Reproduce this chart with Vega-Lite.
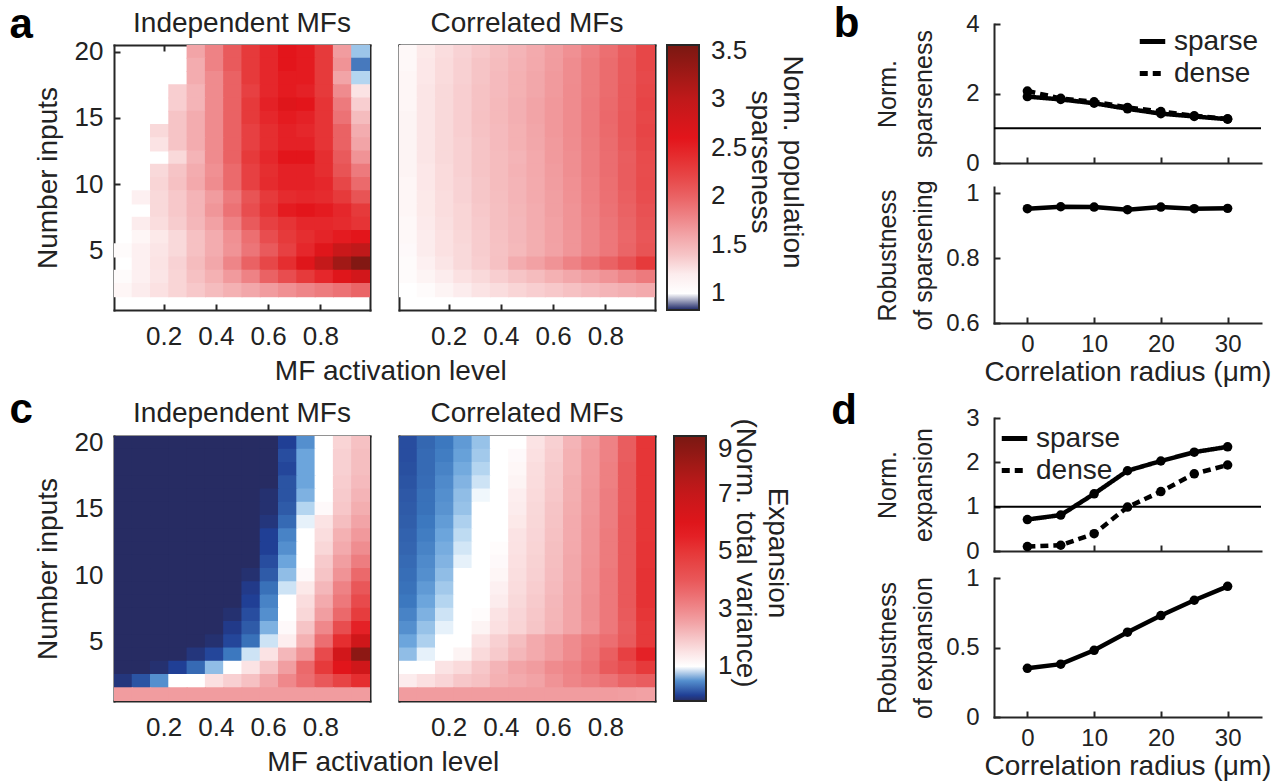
{
"$schema":"https://vega.github.io/schema/vega-lite/v6.json",
"background":"white",
"padding":{"left":9,"top":2,"right":4,"bottom":2},
"config":{
 "font":"Liberation Sans",
 "view":{"stroke":null},
 "axis":{"labelFont":"Liberation Sans","titleFont":"Liberation Sans","labelFontSize":26,"titleFontSize":28,"titleFontWeight":"normal","labelColor":"#222","titleColor":"#222","domainColor":"#262626","domainWidth":2,"domainCap":"square","tickColor":"#262626","tickWidth":2,"tickSize":-6,"grid":false,"zindex":1,"titleLimit":400},
 "title":{"font":"Liberation Sans","fontSize":28,"fontWeight":"normal","color":"#222"},
 "legend":{"labelFont":"Liberation Sans","titleFont":"Liberation Sans"},
 "text":{"font":"Liberation Sans"}
},
"datasets":{
"a1":[
{"x":0.325,"n":20,"v":1.6},{"x":0.395,"n":20,"v":1.8},{"x":0.465,"n":20,"v":2.05},{"x":0.535,"n":20,"v":2.3},{"x":0.605,"n":20,"v":2.45},{"x":0.675,"n":20,"v":2.6},{"x":0.745,"n":20,"v":2.55},{"x":0.815,"n":20,"v":2.3},{"x":0.885,"n":20,"v":1.65},{"x":0.955,"n":20,"v":0.97},
{"x":0.325,"n":19,"v":1.55},{"x":0.395,"n":19,"v":1.8},{"x":0.465,"n":19,"v":2.05},{"x":0.535,"n":19,"v":2.3},{"x":0.605,"n":19,"v":2.45},{"x":0.675,"n":19,"v":2.6},{"x":0.745,"n":19,"v":2.55},{"x":0.815,"n":19,"v":2.3},{"x":0.885,"n":19,"v":1.7},{"x":0.955,"n":19,"v":0.92},
{"x":0.325,"n":18,"v":1.55},{"x":0.395,"n":18,"v":1.75},{"x":0.465,"n":18,"v":2.0},{"x":0.535,"n":18,"v":2.3},{"x":0.605,"n":18,"v":2.45},{"x":0.675,"n":18,"v":2.55},{"x":0.745,"n":18,"v":2.55},{"x":0.815,"n":18,"v":2.3},{"x":0.885,"n":18,"v":1.6},{"x":0.955,"n":18,"v":0.98},
{"x":0.255,"n":17,"v":1.35},{"x":0.325,"n":17,"v":1.5},{"x":0.395,"n":17,"v":1.75},{"x":0.465,"n":17,"v":2.0},{"x":0.535,"n":17,"v":2.25},{"x":0.605,"n":17,"v":2.45},{"x":0.675,"n":17,"v":2.55},{"x":0.745,"n":17,"v":2.5},{"x":0.815,"n":17,"v":2.3},{"x":0.885,"n":17,"v":1.75},{"x":0.955,"n":17,"v":1.25},
{"x":0.255,"n":16,"v":1.35},{"x":0.325,"n":16,"v":1.5},{"x":0.395,"n":16,"v":1.75},{"x":0.465,"n":16,"v":2.0},{"x":0.535,"n":16,"v":2.3},{"x":0.605,"n":16,"v":2.5},{"x":0.675,"n":16,"v":2.65},{"x":0.745,"n":16,"v":2.6},{"x":0.815,"n":16,"v":2.35},{"x":0.885,"n":16,"v":1.85},{"x":0.955,"n":16,"v":1.35},
{"x":0.255,"n":15,"v":1.4},{"x":0.325,"n":15,"v":1.55},{"x":0.395,"n":15,"v":1.75},{"x":0.465,"n":15,"v":2.0},{"x":0.535,"n":15,"v":2.3},{"x":0.605,"n":15,"v":2.45},{"x":0.675,"n":15,"v":2.55},{"x":0.745,"n":15,"v":2.5},{"x":0.815,"n":15,"v":2.35},{"x":0.885,"n":15,"v":1.9},{"x":0.955,"n":15,"v":1.45},
{"x":0.185,"n":14,"v":1.3},{"x":0.255,"n":14,"v":1.4},{"x":0.325,"n":14,"v":1.55},{"x":0.395,"n":14,"v":1.75},{"x":0.465,"n":14,"v":2.0},{"x":0.535,"n":14,"v":2.25},{"x":0.605,"n":14,"v":2.4},{"x":0.675,"n":14,"v":2.5},{"x":0.745,"n":14,"v":2.45},{"x":0.815,"n":14,"v":2.35},{"x":0.885,"n":14,"v":2.0},{"x":0.955,"n":14,"v":1.55},
{"x":0.185,"n":13,"v":1.25},{"x":0.255,"n":13,"v":1.4},{"x":0.325,"n":13,"v":1.55},{"x":0.395,"n":13,"v":1.75},{"x":0.465,"n":13,"v":2.0},{"x":0.535,"n":13,"v":2.25},{"x":0.605,"n":13,"v":2.4},{"x":0.675,"n":13,"v":2.5},{"x":0.745,"n":13,"v":2.5},{"x":0.815,"n":13,"v":2.35},{"x":0.885,"n":13,"v":2.0},{"x":0.955,"n":13,"v":1.6},
{"x":0.255,"n":12,"v":1.3},{"x":0.325,"n":12,"v":1.5},{"x":0.395,"n":12,"v":1.75},{"x":0.465,"n":12,"v":2.0},{"x":0.535,"n":12,"v":2.3},{"x":0.605,"n":12,"v":2.45},{"x":0.675,"n":12,"v":2.6},{"x":0.745,"n":12,"v":2.6},{"x":0.815,"n":12,"v":2.4},{"x":0.885,"n":12,"v":2.05},{"x":0.955,"n":12,"v":1.7},
{"x":0.185,"n":11,"v":1.3},{"x":0.255,"n":11,"v":1.4},{"x":0.325,"n":11,"v":1.55},{"x":0.395,"n":11,"v":1.72},{"x":0.465,"n":11,"v":1.95},{"x":0.535,"n":11,"v":2.25},{"x":0.605,"n":11,"v":2.4},{"x":0.675,"n":11,"v":2.5},{"x":0.745,"n":11,"v":2.5},{"x":0.815,"n":11,"v":2.4},{"x":0.885,"n":11,"v":2.1},{"x":0.955,"n":11,"v":1.85},
{"x":0.185,"n":10,"v":1.32},{"x":0.255,"n":10,"v":1.42},{"x":0.325,"n":10,"v":1.57},{"x":0.395,"n":10,"v":1.74},{"x":0.465,"n":10,"v":1.95},{"x":0.535,"n":10,"v":2.25},{"x":0.605,"n":10,"v":2.42},{"x":0.675,"n":10,"v":2.5},{"x":0.745,"n":10,"v":2.5},{"x":0.815,"n":10,"v":2.45},{"x":0.885,"n":10,"v":2.2},{"x":0.955,"n":10,"v":1.95},
{"x":0.115,"n":9,"v":1.18},{"x":0.185,"n":9,"v":1.3},{"x":0.255,"n":9,"v":1.38},{"x":0.325,"n":9,"v":1.5},{"x":0.395,"n":9,"v":1.65},{"x":0.465,"n":9,"v":1.85},{"x":0.535,"n":9,"v":2.1},{"x":0.605,"n":9,"v":2.3},{"x":0.675,"n":9,"v":2.42},{"x":0.745,"n":9,"v":2.45},{"x":0.815,"n":9,"v":2.42},{"x":0.885,"n":9,"v":2.3},{"x":0.955,"n":9,"v":2.1},
{"x":0.185,"n":8,"v":1.3},{"x":0.255,"n":8,"v":1.38},{"x":0.325,"n":8,"v":1.5},{"x":0.395,"n":8,"v":1.68},{"x":0.465,"n":8,"v":1.9},{"x":0.535,"n":8,"v":2.15},{"x":0.605,"n":8,"v":2.35},{"x":0.675,"n":8,"v":2.55},{"x":0.745,"n":8,"v":2.6},{"x":0.815,"n":8,"v":2.55},{"x":0.885,"n":8,"v":2.45},{"x":0.955,"n":8,"v":2.3},
{"x":0.115,"n":7,"v":1.2},{"x":0.185,"n":7,"v":1.28},{"x":0.255,"n":7,"v":1.36},{"x":0.325,"n":7,"v":1.48},{"x":0.395,"n":7,"v":1.62},{"x":0.465,"n":7,"v":1.8},{"x":0.535,"n":7,"v":2.05},{"x":0.605,"n":7,"v":2.25},{"x":0.675,"n":7,"v":2.35},{"x":0.745,"n":7,"v":2.45},{"x":0.815,"n":7,"v":2.45},{"x":0.885,"n":7,"v":2.42},{"x":0.955,"n":7,"v":2.35},
{"x":0.115,"n":6,"v":1.15},{"x":0.185,"n":6,"v":1.22},{"x":0.255,"n":6,"v":1.3},{"x":0.325,"n":6,"v":1.42},{"x":0.395,"n":6,"v":1.55},{"x":0.465,"n":6,"v":1.72},{"x":0.535,"n":6,"v":1.92},{"x":0.605,"n":6,"v":2.15},{"x":0.675,"n":6,"v":2.3},{"x":0.745,"n":6,"v":2.4},{"x":0.815,"n":6,"v":2.48},{"x":0.885,"n":6,"v":2.55},{"x":0.955,"n":6,"v":2.6},
{"x":0.045,"n":5,"v":1.12},{"x":0.115,"n":5,"v":1.18},{"x":0.185,"n":5,"v":1.24},{"x":0.255,"n":5,"v":1.3},{"x":0.325,"n":5,"v":1.42},{"x":0.395,"n":5,"v":1.55},{"x":0.465,"n":5,"v":1.7},{"x":0.535,"n":5,"v":1.88},{"x":0.605,"n":5,"v":2.05},{"x":0.675,"n":5,"v":2.25},{"x":0.745,"n":5,"v":2.45},{"x":0.815,"n":5,"v":2.65},{"x":0.885,"n":5,"v":2.9},{"x":0.955,"n":5,"v":3.0},
{"x":0.115,"n":4,"v":1.18},{"x":0.185,"n":4,"v":1.25},{"x":0.255,"n":4,"v":1.33},{"x":0.325,"n":4,"v":1.45},{"x":0.395,"n":4,"v":1.58},{"x":0.465,"n":4,"v":1.78},{"x":0.535,"n":4,"v":2.0},{"x":0.605,"n":4,"v":2.2},{"x":0.675,"n":4,"v":2.4},{"x":0.745,"n":4,"v":2.65},{"x":0.815,"n":4,"v":2.95},{"x":0.885,"n":4,"v":3.25},{"x":0.955,"n":4,"v":3.5},
{"x":0.045,"n":3,"v":1.12},{"x":0.115,"n":3,"v":1.18},{"x":0.185,"n":3,"v":1.24},{"x":0.255,"n":3,"v":1.32},{"x":0.325,"n":3,"v":1.42},{"x":0.395,"n":3,"v":1.52},{"x":0.465,"n":3,"v":1.66},{"x":0.535,"n":3,"v":1.8},{"x":0.605,"n":3,"v":2.0},{"x":0.675,"n":3,"v":2.15},{"x":0.745,"n":3,"v":2.3},{"x":0.815,"n":3,"v":2.45},{"x":0.885,"n":3,"v":2.65},{"x":0.955,"n":3,"v":2.8},
{"x":0.045,"n":2,"v":1.15},{"x":0.115,"n":2,"v":1.2},{"x":0.185,"n":2,"v":1.26},{"x":0.255,"n":2,"v":1.32},{"x":0.325,"n":2,"v":1.38},{"x":0.395,"n":2,"v":1.45},{"x":0.465,"n":2,"v":1.52},{"x":0.535,"n":2,"v":1.58},{"x":0.605,"n":2,"v":1.65},{"x":0.675,"n":2,"v":1.72},{"x":0.745,"n":2,"v":1.78},{"x":0.815,"n":2,"v":1.84},{"x":0.885,"n":2,"v":1.9},{"x":0.955,"n":2,"v":1.98}
],
"a2":[
{"x":0.045,"n":20,"v":1.14},{"x":0.115,"n":20,"v":1.22},{"x":0.185,"n":20,"v":1.28},{"x":0.255,"n":20,"v":1.33},{"x":0.325,"n":20,"v":1.38},{"x":0.395,"n":20,"v":1.44},{"x":0.465,"n":20,"v":1.5},{"x":0.535,"n":20,"v":1.56},{"x":0.605,"n":20,"v":1.64},{"x":0.675,"n":20,"v":1.72},{"x":0.745,"n":20,"v":1.82},{"x":0.815,"n":20,"v":1.92},{"x":0.885,"n":20,"v":2.04},{"x":0.955,"n":20,"v":2.2},
{"x":0.045,"n":19,"v":1.14},{"x":0.115,"n":19,"v":1.23},{"x":0.185,"n":19,"v":1.29},{"x":0.255,"n":19,"v":1.34},{"x":0.325,"n":19,"v":1.4},{"x":0.395,"n":19,"v":1.45},{"x":0.465,"n":19,"v":1.51},{"x":0.535,"n":19,"v":1.57},{"x":0.605,"n":19,"v":1.65},{"x":0.675,"n":19,"v":1.74},{"x":0.745,"n":19,"v":1.84},{"x":0.815,"n":19,"v":1.94},{"x":0.885,"n":19,"v":2.05},{"x":0.955,"n":19,"v":2.2},
{"x":0.045,"n":18,"v":1.15},{"x":0.115,"n":18,"v":1.23},{"x":0.185,"n":18,"v":1.29},{"x":0.255,"n":18,"v":1.34},{"x":0.325,"n":18,"v":1.4},{"x":0.395,"n":18,"v":1.46},{"x":0.465,"n":18,"v":1.52},{"x":0.535,"n":18,"v":1.58},{"x":0.605,"n":18,"v":1.66},{"x":0.675,"n":18,"v":1.74},{"x":0.745,"n":18,"v":1.84},{"x":0.815,"n":18,"v":1.94},{"x":0.885,"n":18,"v":2.05},{"x":0.955,"n":18,"v":2.18},
{"x":0.045,"n":17,"v":1.15},{"x":0.115,"n":17,"v":1.24},{"x":0.185,"n":17,"v":1.3},{"x":0.255,"n":17,"v":1.35},{"x":0.325,"n":17,"v":1.41},{"x":0.395,"n":17,"v":1.46},{"x":0.465,"n":17,"v":1.52},{"x":0.535,"n":17,"v":1.58},{"x":0.605,"n":17,"v":1.66},{"x":0.675,"n":17,"v":1.75},{"x":0.745,"n":17,"v":1.84},{"x":0.815,"n":17,"v":1.94},{"x":0.885,"n":17,"v":2.06},{"x":0.955,"n":17,"v":2.2},
{"x":0.045,"n":16,"v":1.15},{"x":0.115,"n":16,"v":1.24},{"x":0.185,"n":16,"v":1.3},{"x":0.255,"n":16,"v":1.35},{"x":0.325,"n":16,"v":1.41},{"x":0.395,"n":16,"v":1.47},{"x":0.465,"n":16,"v":1.53},{"x":0.535,"n":16,"v":1.6},{"x":0.605,"n":16,"v":1.67},{"x":0.675,"n":16,"v":1.75},{"x":0.745,"n":16,"v":1.85},{"x":0.815,"n":16,"v":1.95},{"x":0.885,"n":16,"v":2.06},{"x":0.955,"n":16,"v":2.22},
{"x":0.045,"n":15,"v":1.16},{"x":0.115,"n":15,"v":1.24},{"x":0.185,"n":15,"v":1.3},{"x":0.255,"n":15,"v":1.35},{"x":0.325,"n":15,"v":1.42},{"x":0.395,"n":15,"v":1.47},{"x":0.465,"n":15,"v":1.53},{"x":0.535,"n":15,"v":1.6},{"x":0.605,"n":15,"v":1.67},{"x":0.675,"n":15,"v":1.75},{"x":0.745,"n":15,"v":1.85},{"x":0.815,"n":15,"v":1.96},{"x":0.885,"n":15,"v":2.07},{"x":0.955,"n":15,"v":2.2},
{"x":0.045,"n":14,"v":1.16},{"x":0.115,"n":14,"v":1.24},{"x":0.185,"n":14,"v":1.3},{"x":0.255,"n":14,"v":1.35},{"x":0.325,"n":14,"v":1.41},{"x":0.395,"n":14,"v":1.46},{"x":0.465,"n":14,"v":1.52},{"x":0.535,"n":14,"v":1.59},{"x":0.605,"n":14,"v":1.67},{"x":0.675,"n":14,"v":1.75},{"x":0.745,"n":14,"v":1.85},{"x":0.815,"n":14,"v":1.95},{"x":0.885,"n":14,"v":2.07},{"x":0.955,"n":14,"v":2.22},
{"x":0.045,"n":13,"v":1.16},{"x":0.115,"n":13,"v":1.24},{"x":0.185,"n":13,"v":1.3},{"x":0.255,"n":13,"v":1.34},{"x":0.325,"n":13,"v":1.4},{"x":0.395,"n":13,"v":1.46},{"x":0.465,"n":13,"v":1.52},{"x":0.535,"n":13,"v":1.58},{"x":0.605,"n":13,"v":1.66},{"x":0.675,"n":13,"v":1.74},{"x":0.745,"n":13,"v":1.84},{"x":0.815,"n":13,"v":1.94},{"x":0.885,"n":13,"v":2.06},{"x":0.955,"n":13,"v":2.2},
{"x":0.045,"n":12,"v":1.16},{"x":0.115,"n":12,"v":1.24},{"x":0.185,"n":12,"v":1.3},{"x":0.255,"n":12,"v":1.34},{"x":0.325,"n":12,"v":1.4},{"x":0.395,"n":12,"v":1.45},{"x":0.465,"n":12,"v":1.5},{"x":0.535,"n":12,"v":1.57},{"x":0.605,"n":12,"v":1.66},{"x":0.675,"n":12,"v":1.73},{"x":0.745,"n":12,"v":1.83},{"x":0.815,"n":12,"v":1.93},{"x":0.885,"n":12,"v":2.03},{"x":0.955,"n":12,"v":2.17},
{"x":0.045,"n":11,"v":1.16},{"x":0.115,"n":11,"v":1.23},{"x":0.185,"n":11,"v":1.29},{"x":0.255,"n":11,"v":1.34},{"x":0.325,"n":11,"v":1.4},{"x":0.395,"n":11,"v":1.45},{"x":0.465,"n":11,"v":1.51},{"x":0.535,"n":11,"v":1.57},{"x":0.605,"n":11,"v":1.65},{"x":0.675,"n":11,"v":1.73},{"x":0.745,"n":11,"v":1.83},{"x":0.815,"n":11,"v":1.93},{"x":0.885,"n":11,"v":2.04},{"x":0.955,"n":11,"v":2.16},
{"x":0.045,"n":10,"v":1.15},{"x":0.115,"n":10,"v":1.23},{"x":0.185,"n":10,"v":1.29},{"x":0.255,"n":10,"v":1.33},{"x":0.325,"n":10,"v":1.39},{"x":0.395,"n":10,"v":1.45},{"x":0.465,"n":10,"v":1.5},{"x":0.535,"n":10,"v":1.56},{"x":0.605,"n":10,"v":1.64},{"x":0.675,"n":10,"v":1.72},{"x":0.745,"n":10,"v":1.82},{"x":0.815,"n":10,"v":1.92},{"x":0.885,"n":10,"v":2.04},{"x":0.955,"n":10,"v":2.17},
{"x":0.045,"n":9,"v":1.15},{"x":0.115,"n":9,"v":1.22},{"x":0.185,"n":9,"v":1.28},{"x":0.255,"n":9,"v":1.33},{"x":0.325,"n":9,"v":1.39},{"x":0.395,"n":9,"v":1.44},{"x":0.465,"n":9,"v":1.5},{"x":0.535,"n":9,"v":1.56},{"x":0.605,"n":9,"v":1.63},{"x":0.675,"n":9,"v":1.71},{"x":0.745,"n":9,"v":1.81},{"x":0.815,"n":9,"v":1.91},{"x":0.885,"n":9,"v":2.02},{"x":0.955,"n":9,"v":2.15},
{"x":0.045,"n":8,"v":1.15},{"x":0.115,"n":8,"v":1.22},{"x":0.185,"n":8,"v":1.28},{"x":0.255,"n":8,"v":1.32},{"x":0.325,"n":8,"v":1.38},{"x":0.395,"n":8,"v":1.43},{"x":0.465,"n":8,"v":1.49},{"x":0.535,"n":8,"v":1.55},{"x":0.605,"n":8,"v":1.63},{"x":0.675,"n":8,"v":1.7},{"x":0.745,"n":8,"v":1.8},{"x":0.815,"n":8,"v":1.9},{"x":0.885,"n":8,"v":2.0},{"x":0.955,"n":8,"v":2.12},
{"x":0.045,"n":7,"v":1.14},{"x":0.115,"n":7,"v":1.21},{"x":0.185,"n":7,"v":1.27},{"x":0.255,"n":7,"v":1.32},{"x":0.325,"n":7,"v":1.37},{"x":0.395,"n":7,"v":1.43},{"x":0.465,"n":7,"v":1.48},{"x":0.535,"n":7,"v":1.55},{"x":0.605,"n":7,"v":1.62},{"x":0.675,"n":7,"v":1.7},{"x":0.745,"n":7,"v":1.79},{"x":0.815,"n":7,"v":1.88},{"x":0.885,"n":7,"v":1.98},{"x":0.955,"n":7,"v":2.1},
{"x":0.045,"n":6,"v":1.14},{"x":0.115,"n":6,"v":1.2},{"x":0.185,"n":6,"v":1.26},{"x":0.255,"n":6,"v":1.31},{"x":0.325,"n":6,"v":1.36},{"x":0.395,"n":6,"v":1.42},{"x":0.465,"n":6,"v":1.48},{"x":0.535,"n":6,"v":1.54},{"x":0.605,"n":6,"v":1.62},{"x":0.675,"n":6,"v":1.69},{"x":0.745,"n":6,"v":1.78},{"x":0.815,"n":6,"v":1.87},{"x":0.885,"n":6,"v":1.97},{"x":0.955,"n":6,"v":2.08},
{"x":0.045,"n":5,"v":1.13},{"x":0.115,"n":5,"v":1.2},{"x":0.185,"n":5,"v":1.26},{"x":0.255,"n":5,"v":1.3},{"x":0.325,"n":5,"v":1.36},{"x":0.395,"n":5,"v":1.41},{"x":0.465,"n":5,"v":1.47},{"x":0.535,"n":5,"v":1.54},{"x":0.605,"n":5,"v":1.61},{"x":0.675,"n":5,"v":1.69},{"x":0.745,"n":5,"v":1.78},{"x":0.815,"n":5,"v":1.87},{"x":0.885,"n":5,"v":1.98},{"x":0.955,"n":5,"v":2.1},
{"x":0.045,"n":4,"v":1.12},{"x":0.115,"n":4,"v":1.18},{"x":0.185,"n":4,"v":1.24},{"x":0.255,"n":4,"v":1.3},{"x":0.325,"n":4,"v":1.35},{"x":0.395,"n":4,"v":1.42},{"x":0.465,"n":4,"v":1.55},{"x":0.535,"n":4,"v":1.62},{"x":0.605,"n":4,"v":1.7},{"x":0.675,"n":4,"v":1.8},{"x":0.745,"n":4,"v":1.9},{"x":0.815,"n":4,"v":2.0},{"x":0.885,"n":4,"v":2.12},{"x":0.955,"n":4,"v":2.3},
{"x":0.045,"n":3,"v":1.12},{"x":0.115,"n":3,"v":1.16},{"x":0.185,"n":3,"v":1.2},{"x":0.255,"n":3,"v":1.26},{"x":0.325,"n":3,"v":1.3},{"x":0.395,"n":3,"v":1.35},{"x":0.465,"n":3,"v":1.4},{"x":0.535,"n":3,"v":1.45},{"x":0.605,"n":3,"v":1.52},{"x":0.675,"n":3,"v":1.58},{"x":0.745,"n":3,"v":1.64},{"x":0.815,"n":3,"v":1.7},{"x":0.885,"n":3,"v":1.78},{"x":0.955,"n":3,"v":1.85},
{"x":0.045,"n":2,"v":1.1},{"x":0.115,"n":2,"v":1.12},{"x":0.185,"n":2,"v":1.16},{"x":0.255,"n":2,"v":1.2},{"x":0.325,"n":2,"v":1.25},{"x":0.395,"n":2,"v":1.28},{"x":0.465,"n":2,"v":1.32},{"x":0.535,"n":2,"v":1.35},{"x":0.605,"n":2,"v":1.38},{"x":0.675,"n":2,"v":1.42},{"x":0.745,"n":2,"v":1.46},{"x":0.815,"n":2,"v":1.5},{"x":0.885,"n":2,"v":1.53},{"x":0.955,"n":2,"v":1.56}
],
"c1":[
{"x":0.045,"n":20,"v":-0.2},{"x":0.115,"n":20,"v":-0.2},{"x":0.185,"n":20,"v":-0.2},{"x":0.255,"n":20,"v":-0.2},{"x":0.325,"n":20,"v":-0.2},{"x":0.395,"n":20,"v":-0.2},{"x":0.465,"n":20,"v":-0.2},{"x":0.535,"n":20,"v":-0.2},{"x":0.605,"n":20,"v":-0.2},{"x":0.675,"n":20,"v":0.0},{"x":0.745,"n":20,"v":0.5},{"x":0.815,"n":20,"v":1.15},{"x":0.885,"n":20,"v":1.75},{"x":0.955,"n":20,"v":2.05},
{"x":0.045,"n":19,"v":-0.2},{"x":0.115,"n":19,"v":-0.2},{"x":0.185,"n":19,"v":-0.2},{"x":0.255,"n":19,"v":-0.2},{"x":0.325,"n":19,"v":-0.2},{"x":0.395,"n":19,"v":-0.2},{"x":0.465,"n":19,"v":-0.2},{"x":0.535,"n":19,"v":-0.2},{"x":0.605,"n":19,"v":-0.2},{"x":0.675,"n":19,"v":0.1},{"x":0.745,"n":19,"v":0.6},{"x":0.815,"n":19,"v":1.15},{"x":0.885,"n":19,"v":1.8},{"x":0.955,"n":19,"v":2.1},
{"x":0.045,"n":18,"v":-0.2},{"x":0.115,"n":18,"v":-0.2},{"x":0.185,"n":18,"v":-0.2},{"x":0.255,"n":18,"v":-0.2},{"x":0.325,"n":18,"v":-0.2},{"x":0.395,"n":18,"v":-0.2},{"x":0.465,"n":18,"v":-0.2},{"x":0.535,"n":18,"v":-0.2},{"x":0.605,"n":18,"v":-0.2},{"x":0.675,"n":18,"v":0.05},{"x":0.745,"n":18,"v":0.6},{"x":0.815,"n":18,"v":1.2},{"x":0.885,"n":18,"v":1.8},{"x":0.955,"n":18,"v":2.1},
{"x":0.045,"n":17,"v":-0.2},{"x":0.115,"n":17,"v":-0.2},{"x":0.185,"n":17,"v":-0.2},{"x":0.255,"n":17,"v":-0.2},{"x":0.325,"n":17,"v":-0.2},{"x":0.395,"n":17,"v":-0.2},{"x":0.465,"n":17,"v":-0.2},{"x":0.535,"n":17,"v":-0.2},{"x":0.605,"n":17,"v":-0.2},{"x":0.675,"n":17,"v":0.15},{"x":0.745,"n":17,"v":0.6},{"x":0.815,"n":17,"v":1.25},{"x":0.885,"n":17,"v":1.85},{"x":0.955,"n":17,"v":2.15},
{"x":0.045,"n":16,"v":-0.2},{"x":0.115,"n":16,"v":-0.2},{"x":0.185,"n":16,"v":-0.2},{"x":0.255,"n":16,"v":-0.2},{"x":0.325,"n":16,"v":-0.2},{"x":0.395,"n":16,"v":-0.2},{"x":0.465,"n":16,"v":-0.2},{"x":0.535,"n":16,"v":-0.2},{"x":0.605,"n":16,"v":-0.15},{"x":0.675,"n":16,"v":0.15},{"x":0.745,"n":16,"v":0.65},{"x":0.815,"n":16,"v":1.25},{"x":0.885,"n":16,"v":1.9},{"x":0.955,"n":16,"v":2.25},
{"x":0.045,"n":15,"v":-0.2},{"x":0.115,"n":15,"v":-0.2},{"x":0.185,"n":15,"v":-0.2},{"x":0.255,"n":15,"v":-0.2},{"x":0.325,"n":15,"v":-0.2},{"x":0.395,"n":15,"v":-0.2},{"x":0.465,"n":15,"v":-0.2},{"x":0.535,"n":15,"v":-0.2},{"x":0.605,"n":15,"v":-0.15},{"x":0.675,"n":15,"v":0.2},{"x":0.745,"n":15,"v":0.8},{"x":0.815,"n":15,"v":1.3},{"x":0.885,"n":15,"v":1.95},{"x":0.955,"n":15,"v":2.35},
{"x":0.045,"n":14,"v":-0.2},{"x":0.115,"n":14,"v":-0.2},{"x":0.185,"n":14,"v":-0.2},{"x":0.255,"n":14,"v":-0.2},{"x":0.325,"n":14,"v":-0.2},{"x":0.395,"n":14,"v":-0.2},{"x":0.465,"n":14,"v":-0.2},{"x":0.535,"n":14,"v":-0.2},{"x":0.605,"n":14,"v":-0.1},{"x":0.675,"n":14,"v":0.3},{"x":0.745,"n":14,"v":0.9},{"x":0.815,"n":14,"v":1.5},{"x":0.885,"n":14,"v":2.1},{"x":0.955,"n":14,"v":2.5},
{"x":0.045,"n":13,"v":-0.2},{"x":0.115,"n":13,"v":-0.2},{"x":0.185,"n":13,"v":-0.2},{"x":0.255,"n":13,"v":-0.2},{"x":0.325,"n":13,"v":-0.2},{"x":0.395,"n":13,"v":-0.2},{"x":0.465,"n":13,"v":-0.2},{"x":0.535,"n":13,"v":-0.2},{"x":0.605,"n":13,"v":0.0},{"x":0.675,"n":13,"v":0.45},{"x":0.745,"n":13,"v":1.05},{"x":0.815,"n":13,"v":1.6},{"x":0.885,"n":13,"v":2.3},{"x":0.955,"n":13,"v":2.7},
{"x":0.045,"n":12,"v":-0.2},{"x":0.115,"n":12,"v":-0.2},{"x":0.185,"n":12,"v":-0.2},{"x":0.255,"n":12,"v":-0.2},{"x":0.325,"n":12,"v":-0.2},{"x":0.395,"n":12,"v":-0.2},{"x":0.465,"n":12,"v":-0.2},{"x":0.535,"n":12,"v":-0.2},{"x":0.605,"n":12,"v":0.0},{"x":0.675,"n":12,"v":0.5},{"x":0.745,"n":12,"v":1.1},{"x":0.815,"n":12,"v":1.7},{"x":0.885,"n":12,"v":2.4},{"x":0.955,"n":12,"v":2.9},
{"x":0.045,"n":11,"v":-0.2},{"x":0.115,"n":11,"v":-0.2},{"x":0.185,"n":11,"v":-0.2},{"x":0.255,"n":11,"v":-0.2},{"x":0.325,"n":11,"v":-0.2},{"x":0.395,"n":11,"v":-0.2},{"x":0.465,"n":11,"v":-0.2},{"x":0.535,"n":11,"v":-0.2},{"x":0.605,"n":11,"v":0.1},{"x":0.675,"n":11,"v":0.6},{"x":0.745,"n":11,"v":1.2},{"x":0.815,"n":11,"v":1.9},{"x":0.885,"n":11,"v":2.6},{"x":0.955,"n":11,"v":3.2},
{"x":0.045,"n":10,"v":-0.2},{"x":0.115,"n":10,"v":-0.2},{"x":0.185,"n":10,"v":-0.2},{"x":0.255,"n":10,"v":-0.2},{"x":0.325,"n":10,"v":-0.2},{"x":0.395,"n":10,"v":-0.2},{"x":0.465,"n":10,"v":-0.2},{"x":0.535,"n":10,"v":-0.15},{"x":0.605,"n":10,"v":0.2},{"x":0.675,"n":10,"v":0.7},{"x":0.745,"n":10,"v":1.3},{"x":0.815,"n":10,"v":2.0},{"x":0.885,"n":10,"v":2.8},{"x":0.955,"n":10,"v":3.6},
{"x":0.045,"n":9,"v":-0.2},{"x":0.115,"n":9,"v":-0.2},{"x":0.185,"n":9,"v":-0.2},{"x":0.255,"n":9,"v":-0.2},{"x":0.325,"n":9,"v":-0.2},{"x":0.395,"n":9,"v":-0.2},{"x":0.465,"n":9,"v":-0.2},{"x":0.535,"n":9,"v":-0.05},{"x":0.605,"n":9,"v":0.35},{"x":0.675,"n":9,"v":0.85},{"x":0.745,"n":9,"v":1.45},{"x":0.815,"n":9,"v":2.2},{"x":0.885,"n":9,"v":3.1},{"x":0.955,"n":9,"v":4.0},
{"x":0.045,"n":8,"v":-0.2},{"x":0.115,"n":8,"v":-0.2},{"x":0.185,"n":8,"v":-0.2},{"x":0.255,"n":8,"v":-0.2},{"x":0.325,"n":8,"v":-0.2},{"x":0.395,"n":8,"v":-0.2},{"x":0.465,"n":8,"v":-0.2},{"x":0.535,"n":8,"v":0.0},{"x":0.605,"n":8,"v":0.45},{"x":0.675,"n":8,"v":1.0},{"x":0.745,"n":8,"v":1.6},{"x":0.815,"n":8,"v":2.4},{"x":0.885,"n":8,"v":3.3},{"x":0.955,"n":8,"v":4.4},
{"x":0.045,"n":7,"v":-0.2},{"x":0.115,"n":7,"v":-0.2},{"x":0.185,"n":7,"v":-0.2},{"x":0.255,"n":7,"v":-0.2},{"x":0.325,"n":7,"v":-0.2},{"x":0.395,"n":7,"v":-0.2},{"x":0.465,"n":7,"v":-0.15},{"x":0.535,"n":7,"v":0.1},{"x":0.605,"n":7,"v":0.5},{"x":0.675,"n":7,"v":1.1},{"x":0.745,"n":7,"v":1.7},{"x":0.815,"n":7,"v":2.6},{"x":0.885,"n":7,"v":3.6},{"x":0.955,"n":7,"v":4.8},
{"x":0.045,"n":6,"v":-0.2},{"x":0.115,"n":6,"v":-0.2},{"x":0.185,"n":6,"v":-0.2},{"x":0.255,"n":6,"v":-0.2},{"x":0.325,"n":6,"v":-0.2},{"x":0.395,"n":6,"v":-0.2},{"x":0.465,"n":6,"v":-0.05},{"x":0.535,"n":6,"v":0.2},{"x":0.605,"n":6,"v":0.65},{"x":0.675,"n":6,"v":1.3},{"x":0.745,"n":6,"v":2.0},{"x":0.815,"n":6,"v":3.0},{"x":0.885,"n":6,"v":4.3},{"x":0.955,"n":6,"v":5.5},
{"x":0.045,"n":5,"v":-0.2},{"x":0.115,"n":5,"v":-0.2},{"x":0.185,"n":5,"v":-0.2},{"x":0.255,"n":5,"v":-0.2},{"x":0.325,"n":5,"v":-0.2},{"x":0.395,"n":5,"v":-0.15},{"x":0.465,"n":5,"v":0.05},{"x":0.535,"n":5,"v":0.35},{"x":0.605,"n":5,"v":0.85},{"x":0.675,"n":5,"v":1.4},{"x":0.745,"n":5,"v":2.3},{"x":0.815,"n":5,"v":3.5},{"x":0.885,"n":5,"v":5.2},{"x":0.955,"n":5,"v":6.6},
{"x":0.045,"n":4,"v":-0.2},{"x":0.115,"n":4,"v":-0.2},{"x":0.185,"n":4,"v":-0.2},{"x":0.255,"n":4,"v":-0.2},{"x":0.325,"n":4,"v":-0.1},{"x":0.395,"n":4,"v":0.05},{"x":0.465,"n":4,"v":0.4},{"x":0.535,"n":4,"v":0.85},{"x":0.605,"n":4,"v":1.5},{"x":0.675,"n":4,"v":2.2},{"x":0.745,"n":4,"v":2.8},{"x":0.815,"n":4,"v":4.4},{"x":0.885,"n":4,"v":6.5},{"x":0.955,"n":4,"v":8.5},
{"x":0.045,"n":3,"v":-0.2},{"x":0.115,"n":3,"v":-0.2},{"x":0.185,"n":3,"v":-0.15},{"x":0.255,"n":3,"v":0.0},{"x":0.325,"n":3,"v":0.3},{"x":0.395,"n":3,"v":0.7},{"x":0.465,"n":3,"v":1.1},{"x":0.535,"n":3,"v":1.5},{"x":0.605,"n":3,"v":2.0},{"x":0.675,"n":3,"v":2.6},{"x":0.745,"n":3,"v":3.6},{"x":0.815,"n":3,"v":4.9},{"x":0.885,"n":3,"v":5.9},{"x":0.955,"n":3,"v":6.6},
{"x":0.045,"n":2,"v":-0.1},{"x":0.115,"n":2,"v":0.15},{"x":0.185,"n":2,"v":0.5},{"x":0.255,"n":2,"v":0.95},{"x":0.325,"n":2,"v":1.2},{"x":0.395,"n":2,"v":1.55},{"x":0.465,"n":2,"v":1.8},{"x":0.535,"n":2,"v":2.05},{"x":0.605,"n":2,"v":2.45},{"x":0.675,"n":2,"v":3.0},{"x":0.745,"n":2,"v":3.5},{"x":0.815,"n":2,"v":3.95},{"x":0.885,"n":2,"v":4.6},{"x":0.955,"n":2,"v":5.2},
{"x":0.045,"n":1,"v":2.65},{"x":0.115,"n":1,"v":2.65},{"x":0.185,"n":1,"v":2.65},{"x":0.255,"n":1,"v":2.65},{"x":0.325,"n":1,"v":2.65},{"x":0.395,"n":1,"v":2.65},{"x":0.465,"n":1,"v":2.65},{"x":0.535,"n":1,"v":2.65},{"x":0.605,"n":1,"v":2.65},{"x":0.675,"n":1,"v":2.65},{"x":0.745,"n":1,"v":2.65},{"x":0.815,"n":1,"v":2.65},{"x":0.885,"n":1,"v":2.65},{"x":0.955,"n":1,"v":2.65}
],
"c2":[
{"x":0.045,"n":20,"v":0.1},{"x":0.115,"n":20,"v":0.28},{"x":0.185,"n":20,"v":0.4},{"x":0.255,"n":20,"v":0.55},{"x":0.325,"n":20,"v":0.72},{"x":0.395,"n":20,"v":0.95},{"x":0.465,"n":20,"v":1.25},{"x":0.535,"n":20,"v":1.5},{"x":0.605,"n":20,"v":1.8},{"x":0.675,"n":20,"v":2.25},{"x":0.745,"n":20,"v":2.65},{"x":0.815,"n":20,"v":3.1},{"x":0.885,"n":20,"v":3.85},{"x":0.955,"n":20,"v":5.0},
{"x":0.045,"n":19,"v":0.1},{"x":0.115,"n":19,"v":0.3},{"x":0.185,"n":19,"v":0.42},{"x":0.255,"n":19,"v":0.58},{"x":0.325,"n":19,"v":0.75},{"x":0.395,"n":19,"v":1.0},{"x":0.465,"n":19,"v":1.3},{"x":0.535,"n":19,"v":1.55},{"x":0.605,"n":19,"v":1.85},{"x":0.675,"n":19,"v":2.3},{"x":0.745,"n":19,"v":2.7},{"x":0.815,"n":19,"v":3.1},{"x":0.885,"n":19,"v":3.85},{"x":0.955,"n":19,"v":5.0},
{"x":0.045,"n":18,"v":0.12},{"x":0.115,"n":18,"v":0.3},{"x":0.185,"n":18,"v":0.45},{"x":0.255,"n":18,"v":0.62},{"x":0.325,"n":18,"v":0.8},{"x":0.395,"n":18,"v":1.05},{"x":0.465,"n":18,"v":1.32},{"x":0.535,"n":18,"v":1.6},{"x":0.605,"n":18,"v":1.9},{"x":0.675,"n":18,"v":2.3},{"x":0.745,"n":18,"v":2.7},{"x":0.815,"n":18,"v":3.15},{"x":0.885,"n":18,"v":3.9},{"x":0.955,"n":18,"v":5.0},
{"x":0.045,"n":17,"v":0.15},{"x":0.115,"n":17,"v":0.32},{"x":0.185,"n":17,"v":0.48},{"x":0.255,"n":17,"v":0.66},{"x":0.325,"n":17,"v":0.85},{"x":0.395,"n":17,"v":1.1},{"x":0.465,"n":17,"v":1.35},{"x":0.535,"n":17,"v":1.62},{"x":0.605,"n":17,"v":1.92},{"x":0.675,"n":17,"v":2.35},{"x":0.745,"n":17,"v":2.72},{"x":0.815,"n":17,"v":3.15},{"x":0.885,"n":17,"v":3.9},{"x":0.955,"n":17,"v":5.0},
{"x":0.045,"n":16,"v":0.18},{"x":0.115,"n":16,"v":0.35},{"x":0.185,"n":16,"v":0.5},{"x":0.255,"n":16,"v":0.7},{"x":0.325,"n":16,"v":0.92},{"x":0.395,"n":16,"v":1.12},{"x":0.465,"n":16,"v":1.4},{"x":0.535,"n":16,"v":1.65},{"x":0.605,"n":16,"v":1.95},{"x":0.675,"n":16,"v":2.35},{"x":0.745,"n":16,"v":2.75},{"x":0.815,"n":16,"v":3.2},{"x":0.885,"n":16,"v":3.9},{"x":0.955,"n":16,"v":5.0},
{"x":0.045,"n":15,"v":0.2},{"x":0.115,"n":15,"v":0.36},{"x":0.185,"n":15,"v":0.52},{"x":0.255,"n":15,"v":0.72},{"x":0.325,"n":15,"v":0.98},{"x":0.395,"n":15,"v":1.18},{"x":0.465,"n":15,"v":1.42},{"x":0.535,"n":15,"v":1.68},{"x":0.605,"n":15,"v":2.0},{"x":0.675,"n":15,"v":2.38},{"x":0.745,"n":15,"v":2.75},{"x":0.815,"n":15,"v":3.2},{"x":0.885,"n":15,"v":3.9},{"x":0.955,"n":15,"v":5.0},
{"x":0.045,"n":14,"v":0.22},{"x":0.115,"n":14,"v":0.4},{"x":0.185,"n":14,"v":0.56},{"x":0.255,"n":14,"v":0.78},{"x":0.325,"n":14,"v":1.05},{"x":0.395,"n":14,"v":1.22},{"x":0.465,"n":14,"v":1.45},{"x":0.535,"n":14,"v":1.7},{"x":0.605,"n":14,"v":2.02},{"x":0.675,"n":14,"v":2.4},{"x":0.745,"n":14,"v":2.78},{"x":0.815,"n":14,"v":3.2},{"x":0.885,"n":14,"v":3.95},{"x":0.955,"n":14,"v":5.0},
{"x":0.045,"n":13,"v":0.25},{"x":0.115,"n":13,"v":0.42},{"x":0.185,"n":13,"v":0.6},{"x":0.255,"n":13,"v":0.82},{"x":0.325,"n":13,"v":1.08},{"x":0.395,"n":13,"v":1.25},{"x":0.465,"n":13,"v":1.5},{"x":0.535,"n":13,"v":1.72},{"x":0.605,"n":13,"v":2.05},{"x":0.675,"n":13,"v":2.4},{"x":0.745,"n":13,"v":2.8},{"x":0.815,"n":13,"v":3.25},{"x":0.885,"n":13,"v":3.95},{"x":0.955,"n":13,"v":5.0},
{"x":0.045,"n":12,"v":0.27},{"x":0.115,"n":12,"v":0.45},{"x":0.185,"n":12,"v":0.63},{"x":0.255,"n":12,"v":0.86},{"x":0.325,"n":12,"v":1.1},{"x":0.395,"n":12,"v":1.28},{"x":0.465,"n":12,"v":1.52},{"x":0.535,"n":12,"v":1.75},{"x":0.605,"n":12,"v":2.08},{"x":0.675,"n":12,"v":2.42},{"x":0.745,"n":12,"v":2.8},{"x":0.815,"n":12,"v":3.25},{"x":0.885,"n":12,"v":3.95},{"x":0.955,"n":12,"v":5.05},
{"x":0.045,"n":11,"v":0.3},{"x":0.115,"n":11,"v":0.48},{"x":0.185,"n":11,"v":0.66},{"x":0.255,"n":11,"v":0.9},{"x":0.325,"n":11,"v":1.12},{"x":0.395,"n":11,"v":1.3},{"x":0.465,"n":11,"v":1.55},{"x":0.535,"n":11,"v":1.78},{"x":0.605,"n":11,"v":2.1},{"x":0.675,"n":11,"v":2.45},{"x":0.745,"n":11,"v":2.82},{"x":0.815,"n":11,"v":3.25},{"x":0.885,"n":11,"v":3.95},{"x":0.955,"n":11,"v":5.05},
{"x":0.045,"n":10,"v":0.33},{"x":0.115,"n":10,"v":0.5},{"x":0.185,"n":10,"v":0.7},{"x":0.255,"n":10,"v":0.95},{"x":0.325,"n":10,"v":1.15},{"x":0.395,"n":10,"v":1.33},{"x":0.465,"n":10,"v":1.58},{"x":0.535,"n":10,"v":1.8},{"x":0.605,"n":10,"v":2.12},{"x":0.675,"n":10,"v":2.45},{"x":0.745,"n":10,"v":2.85},{"x":0.815,"n":10,"v":3.3},{"x":0.885,"n":10,"v":3.95},{"x":0.955,"n":10,"v":5.1},
{"x":0.045,"n":9,"v":0.36},{"x":0.115,"n":9,"v":0.55},{"x":0.185,"n":9,"v":0.75},{"x":0.255,"n":9,"v":1.0},{"x":0.325,"n":9,"v":1.18},{"x":0.395,"n":9,"v":1.38},{"x":0.465,"n":9,"v":1.62},{"x":0.535,"n":9,"v":1.85},{"x":0.605,"n":9,"v":2.15},{"x":0.675,"n":9,"v":2.48},{"x":0.745,"n":9,"v":2.85},{"x":0.815,"n":9,"v":3.3},{"x":0.885,"n":9,"v":3.95},{"x":0.955,"n":9,"v":5.1},
{"x":0.045,"n":8,"v":0.4},{"x":0.115,"n":8,"v":0.6},{"x":0.185,"n":8,"v":0.8},{"x":0.255,"n":8,"v":1.05},{"x":0.325,"n":8,"v":1.2},{"x":0.395,"n":8,"v":1.42},{"x":0.465,"n":8,"v":1.66},{"x":0.535,"n":8,"v":1.9},{"x":0.605,"n":8,"v":2.2},{"x":0.675,"n":8,"v":2.5},{"x":0.745,"n":8,"v":2.88},{"x":0.815,"n":8,"v":3.3},{"x":0.885,"n":8,"v":3.95},{"x":0.955,"n":8,"v":5.1},
{"x":0.045,"n":7,"v":0.45},{"x":0.115,"n":7,"v":0.65},{"x":0.185,"n":7,"v":0.85},{"x":0.255,"n":7,"v":1.1},{"x":0.325,"n":7,"v":1.28},{"x":0.395,"n":7,"v":1.5},{"x":0.465,"n":7,"v":1.72},{"x":0.535,"n":7,"v":1.95},{"x":0.605,"n":7,"v":2.22},{"x":0.675,"n":7,"v":2.5},{"x":0.745,"n":7,"v":2.88},{"x":0.815,"n":7,"v":3.3},{"x":0.885,"n":7,"v":3.9},{"x":0.955,"n":7,"v":5.0},
{"x":0.045,"n":6,"v":0.5},{"x":0.115,"n":6,"v":0.72},{"x":0.185,"n":6,"v":0.9},{"x":0.255,"n":6,"v":1.15},{"x":0.325,"n":6,"v":1.35},{"x":0.395,"n":6,"v":1.55},{"x":0.465,"n":6,"v":1.75},{"x":0.535,"n":6,"v":1.98},{"x":0.605,"n":6,"v":2.25},{"x":0.675,"n":6,"v":2.5},{"x":0.745,"n":6,"v":2.85},{"x":0.815,"n":6,"v":3.3},{"x":0.885,"n":6,"v":3.85},{"x":0.955,"n":6,"v":4.9},
{"x":0.045,"n":5,"v":0.6},{"x":0.115,"n":5,"v":0.78},{"x":0.185,"n":5,"v":1.0},{"x":0.255,"n":5,"v":1.2},{"x":0.325,"n":5,"v":1.5},{"x":0.395,"n":5,"v":1.8},{"x":0.465,"n":5,"v":2.1},{"x":0.535,"n":5,"v":2.4},{"x":0.605,"n":5,"v":2.65},{"x":0.675,"n":5,"v":2.95},{"x":0.745,"n":5,"v":3.25},{"x":0.815,"n":5,"v":3.5},{"x":0.885,"n":5,"v":3.9},{"x":0.955,"n":5,"v":4.9},
{"x":0.045,"n":4,"v":0.7},{"x":0.115,"n":4,"v":0.9},{"x":0.185,"n":4,"v":1.15},{"x":0.255,"n":4,"v":1.35},{"x":0.325,"n":4,"v":1.65},{"x":0.395,"n":4,"v":1.9},{"x":0.465,"n":4,"v":2.2},{"x":0.535,"n":4,"v":2.4},{"x":0.605,"n":4,"v":2.65},{"x":0.675,"n":4,"v":2.95},{"x":0.745,"n":4,"v":3.3},{"x":0.815,"n":4,"v":3.8},{"x":0.885,"n":4,"v":4.7},{"x":0.955,"n":4,"v":5.5},
{"x":0.045,"n":3,"v":1.1},{"x":0.115,"n":3,"v":1.25},{"x":0.185,"n":3,"v":1.5},{"x":0.255,"n":3,"v":1.65},{"x":0.325,"n":3,"v":1.95},{"x":0.395,"n":3,"v":2.25},{"x":0.465,"n":3,"v":2.5},{"x":0.535,"n":3,"v":2.65},{"x":0.605,"n":3,"v":2.95},{"x":0.675,"n":3,"v":3.1},{"x":0.745,"n":3,"v":3.4},{"x":0.815,"n":3,"v":3.9},{"x":0.885,"n":3,"v":4.3},{"x":0.955,"n":3,"v":4.9},
{"x":0.045,"n":2,"v":1.42},{"x":0.115,"n":2,"v":1.55},{"x":0.185,"n":2,"v":1.72},{"x":0.255,"n":2,"v":1.95},{"x":0.325,"n":2,"v":2.05},{"x":0.395,"n":2,"v":2.3},{"x":0.465,"n":2,"v":2.4},{"x":0.535,"n":2,"v":2.52},{"x":0.605,"n":2,"v":2.8},{"x":0.675,"n":2,"v":3.05},{"x":0.745,"n":2,"v":3.2},{"x":0.815,"n":2,"v":3.4},{"x":0.885,"n":2,"v":3.7},{"x":0.955,"n":2,"v":3.85},
{"x":0.045,"n":1,"v":2.65},{"x":0.115,"n":1,"v":2.65},{"x":0.185,"n":1,"v":2.65},{"x":0.255,"n":1,"v":2.65},{"x":0.325,"n":1,"v":2.65},{"x":0.395,"n":1,"v":2.65},{"x":0.465,"n":1,"v":2.65},{"x":0.535,"n":1,"v":2.65},{"x":0.605,"n":1,"v":2.65},{"x":0.675,"n":1,"v":2.65},{"x":0.745,"n":1,"v":2.65},{"x":0.815,"n":1,"v":2.65},{"x":0.885,"n":1,"v":2.6},{"x":0.955,"n":1,"v":2.55}
],
"b1":[
{"r":0,"s":"sparse","v":1.91},{"r":5,"s":"sparse","v":1.83},{"r":10,"s":"sparse","v":1.72},{"r":15,"s":"sparse","v":1.56},{"r":20,"s":"sparse","v":1.42},{"r":25,"s":"sparse","v":1.34},{"r":30,"s":"sparse","v":1.26},
{"r":0,"s":"dense","v":2.07},{"r":5,"s":"dense","v":1.86},{"r":10,"s":"dense","v":1.76},{"r":15,"s":"dense","v":1.6},{"r":20,"s":"dense","v":1.48},{"r":25,"s":"dense","v":1.36},{"r":30,"s":"dense","v":1.27}
],
"b2":[
{"r":0,"v":0.953},{"r":5,"v":0.959},{"r":10,"v":0.958},{"r":15,"v":0.95},{"r":20,"v":0.958},{"r":25,"v":0.953},{"r":30,"v":0.954}
],
"d1":[
{"r":0,"s":"sparse","v":0.71},{"r":5,"s":"sparse","v":0.81},{"r":10,"s":"sparse","v":1.29},{"r":15,"s":"sparse","v":1.81},{"r":20,"s":"sparse","v":2.03},{"r":25,"s":"sparse","v":2.23},{"r":30,"s":"sparse","v":2.35},
{"r":0,"s":"dense","v":0.1},{"r":5,"s":"dense","v":0.13},{"r":10,"s":"dense","v":0.39},{"r":15,"s":"dense","v":0.99},{"r":20,"s":"dense","v":1.34},{"r":25,"s":"dense","v":1.74},{"r":30,"s":"dense","v":1.94}
],
"d2":[
{"r":0,"v":0.35},{"r":5,"v":0.38},{"r":10,"v":0.48},{"r":15,"v":0.61},{"r":20,"v":0.73},{"r":25,"v":0.84},{"r":30,"v":0.94}
]
},
"hconcat":[
{
 "bounds":"flush",
 "spacing":20,
 "resolve":{"scale":{"color":"independent"}},
 "vconcat":[
 {"width":10,"height":1,"data":{"values":[{"t":0}]},"mark":{"type":"point","opacity":0}},
 {
 "spacing":3,
 "resolve":{"scale":{"color":"independent"}},
 "vconcat":[
 {
  "title":{"text":"MF activation level","orient":"bottom","anchor":"middle","offset":9,"dx":-17},
  "spacing":29,
  "bounds":"flush",
  "resolve":{"scale":{"color":"independent"}},
  "hconcat":[
   {"width":256,"height":265,"data":{"name":"a1"},
    "layer":[
     {"mark":{"type":"rect","width":19.4,"height":14.2,"clip":true,"strokeWidth":0},
      "encoding":{
       "x":{"field":"x","type":"quantitative","scale":{"domain":[0.01,0.99],"nice":false,"zero":false},"axis":{"values":[0.2,0.4,0.6,0.8],"format":".1f","title":null,"labelPadding":19}},
       "y":{"field":"n","type":"quantitative","scale":{"domain":[0.5,20.5],"nice":false,"zero":false},"axis":{"values":[5,10,15,20],"title":"Number inputs","labelPadding":17,"titlePadding":12}},
       "color":{"field":"v","type":"quantitative","legend":null,"scale":{"type":"linear","interpolate":"rgb","domain":[0.83,0.9,0.95,0.98,1.0,1.1,1.25,1.4,1.6,1.8,2.05,2.3,2.6,3.0,3.56],"range":["#1b2565","#2f5ba8","#6ca5dc","#b4d5f0","#ffffff","#ffffff","#fbe3e4","#f6c4c6","#f2a4a7","#ee8285","#e95a5c","#e63a3b","#e3151b","#c0191a","#7a1812"]}}}},
     {"mark":{"type":"point","opacity":0},
      "encoding":{
       "x":{"field":"x","type":"quantitative","axis":{"orient":"top","values":[0.2,0.4,0.6,0.8],"labels":false,"title":null}},
       "y":{"field":"n","type":"quantitative","axis":{"orient":"right","values":[5,10,15,20],"labels":false,"title":null}}}},
     {"data":{"values":[{"t":"a"}]},"mark":{"type":"text","fontSize":42,"fontWeight":"bold","align":"left","baseline":"alphabetic","color":"#000"},
      "encoding":{"text":{"field":"t"},"x":{"datum":-0.39,"axis":null},"y":{"datum":21.03,"axis":null}}},
     {"data":{"values":[{"t":"Independent MFs"}]},"mark":{"type":"text","fontSize":28,"align":"center","baseline":"alphabetic","color":"#222"},
      "encoding":{"text":{"field":"t"},"x":{"datum":0.5,"axis":null},"y":{"datum":21.5,"axis":null}}}
    ],
    "resolve":{"axis":{"x":"independent","y":"independent"}}},
   {"width":256,"height":265,"data":{"name":"a2"},
    "layer":[
     {"mark":{"type":"rect","width":19.4,"height":14.2,"clip":true,"strokeWidth":0},
      "encoding":{
       "x":{"field":"x","type":"quantitative","scale":{"domain":[0.01,0.99],"nice":false,"zero":false},"axis":{"values":[0.2,0.4,0.6,0.8],"format":".1f","title":null,"labelPadding":19}},
       "y":{"field":"n","type":"quantitative","scale":{"domain":[0.5,20.5],"nice":false,"zero":false},"axis":{"values":[5,10,15,20],"labels":false,"title":null}},
       "color":{"field":"v","type":"quantitative","scale":{"type":"linear","interpolate":"rgb","domain":[0.83,0.9,0.95,0.98,1.0,1.1,1.25,1.4,1.6,1.8,2.05,2.3,2.6,3.0,3.56],"range":["#1b2565","#2f5ba8","#6ca5dc","#b4d5f0","#ffffff","#ffffff","#fbe3e4","#f6c4c6","#f2a4a7","#ee8285","#e95a5c","#e63a3b","#e3151b","#c0191a","#7a1812"]},
        "legend":{"title":["Norm. population","sparseness"],"values":[1,1.5,2,2.5,3,3.5],"format":"~g","orient":"right","offset":11,"direction":"vertical","gradientLength":265,"gradientThickness":32,"gradientStrokeColor":"#262626","gradientStrokeWidth":2,"labelFontSize":26,"labelColor":"#222","labelOffset":12,"titleOrient":"right","titleAngle":90,"titleBaseline":"bottom","titleAlign":"center","titleAnchor":"middle","titleFontSize":28,"titleFontWeight":"normal","titleColor":"#222","titlePadding":31,"titleLineHeight":32,"titleLimit":400}}}},
     {"mark":{"type":"point","opacity":0},
      "encoding":{
       "x":{"field":"x","type":"quantitative","axis":{"orient":"top","values":[0.2,0.4,0.6,0.8],"labels":false,"title":null}},
       "y":{"field":"n","type":"quantitative","axis":{"orient":"right","values":[5,10,15,20],"labels":false,"title":null}}}},
     {"data":{"values":[{"t":"Correlated MFs"}]},"mark":{"type":"text","fontSize":28,"align":"center","baseline":"alphabetic","color":"#222"},
      "encoding":{"text":{"field":"t"},"x":{"datum":0.5,"axis":null},"y":{"datum":21.5,"axis":null}}}
    ],
    "resolve":{"axis":{"x":"independent","y":"independent"}}}
  ]
 },
 {
  "title":{"text":"MF activation level","orient":"bottom","anchor":"middle","offset":9,"dx":-17},
  "spacing":29,
  "bounds":"flush",
  "resolve":{"scale":{"color":"independent"}},
  "hconcat":[
   {"width":256,"height":265,"data":{"name":"c1"},
    "layer":[
     {"mark":{"type":"rect","width":19.4,"height":14.2,"clip":true,"strokeWidth":0},
      "encoding":{
       "x":{"field":"x","type":"quantitative","scale":{"domain":[0.01,0.99],"nice":false,"zero":false},"axis":{"values":[0.2,0.4,0.6,0.8],"format":".1f","title":null,"labelPadding":19}},
       "y":{"field":"n","type":"quantitative","scale":{"domain":[0.5,20.5],"nice":false,"zero":false},"axis":{"values":[5,10,15,20],"title":"Number inputs","labelPadding":17,"titlePadding":12}},
       "color":{"field":"v","type":"quantitative","legend":null,"scale":{"type":"linear","interpolate":"rgb","domain":[-0.2,0.0,0.2,0.4,0.6,0.8,0.95,1.25,1.5,2.0,2.5,3.1,3.9,4.9,5.8,7.2,9.0],"range":["#272c63","#203f95","#2f5ba8","#3c78bf","#6ca5dc","#b4d5f0","#ffffff","#ffffff","#fbe3e4","#f6c4c6","#f2a4a7","#ee8285","#e95a5c","#e63a3b","#e3151b","#c0191a","#7a1812"]}}}},
     {"mark":{"type":"point","opacity":0},
      "encoding":{
       "x":{"field":"x","type":"quantitative","axis":{"orient":"top","values":[0.2,0.4,0.6,0.8],"labels":false,"title":null}},
       "y":{"field":"n","type":"quantitative","axis":{"orient":"right","values":[5,10,15,20],"labels":false,"title":null}}}},
     {"data":{"values":[{"t":"c"}]},"mark":{"type":"text","fontSize":42,"fontWeight":"bold","align":"left","baseline":"alphabetic","color":"#000"},
      "encoding":{"text":{"field":"t"},"x":{"datum":-0.39,"axis":null},"y":{"datum":21.48,"axis":null}}},
     {"data":{"values":[{"t":"Independent MFs"}]},"mark":{"type":"text","fontSize":28,"align":"center","baseline":"alphabetic","color":"#222"},
      "encoding":{"text":{"field":"t"},"x":{"datum":0.5,"axis":null},"y":{"datum":21.55,"axis":null}}}
    ],
    "resolve":{"axis":{"x":"independent","y":"independent"}}},
   {"width":256,"height":265,"data":{"name":"c2"},
    "layer":[
     {"mark":{"type":"rect","width":19.4,"height":14.2,"clip":true,"strokeWidth":0},
      "encoding":{
       "x":{"field":"x","type":"quantitative","scale":{"domain":[0.01,0.99],"nice":false,"zero":false},"axis":{"values":[0.2,0.4,0.6,0.8],"format":".1f","title":null,"labelPadding":19}},
       "y":{"field":"n","type":"quantitative","scale":{"domain":[0.5,20.5],"nice":false,"zero":false},"axis":{"values":[5,10,15,20],"labels":false,"title":null}},
       "color":{"field":"v","type":"quantitative","scale":{"type":"linear","interpolate":"rgb","domain":[-0.2,0.0,0.2,0.4,0.6,0.8,0.95,1.25,1.5,2.0,2.5,3.1,3.9,4.9,5.8,7.2,9.0],"range":["#272c63","#203f95","#2f5ba8","#3c78bf","#6ca5dc","#b4d5f0","#ffffff","#ffffff","#fbe3e4","#f6c4c6","#f2a4a7","#ee8285","#e95a5c","#e63a3b","#e3151b","#c0191a","#7a1812"]},
        "legend":{"title":["Expansion","(Norm. total variance)"],"values":[1,3,5,7,9],"format":"~g","orient":"right","offset":18,"direction":"vertical","gradientLength":265,"gradientThickness":32,"gradientStrokeColor":"#262626","gradientStrokeWidth":2,"labelFontSize":26,"labelColor":"#222","labelOffset":12,"titleOrient":"right","titleAngle":90,"titleBaseline":"bottom","titleAlign":"center","titleAnchor":"middle","titleFontSize":28,"titleFontWeight":"normal","titleColor":"#222","titlePadding":31,"titleLineHeight":32,"titleLimit":400}}}},
     {"mark":{"type":"point","opacity":0},
      "encoding":{
       "x":{"field":"x","type":"quantitative","axis":{"orient":"top","values":[0.2,0.4,0.6,0.8],"labels":false,"title":null}},
       "y":{"field":"n","type":"quantitative","axis":{"orient":"right","values":[5,10,15,20],"labels":false,"title":null}}}},
     {"data":{"values":[{"t":"Correlated MFs"}]},"mark":{"type":"text","fontSize":28,"align":"center","baseline":"alphabetic","color":"#222"},
      "encoding":{"text":{"field":"t"},"x":{"datum":0.5,"axis":null},"y":{"datum":21.55,"axis":null}}}
    ],
    "resolve":{"axis":{"x":"independent","y":"independent"}}}
  ]
 }
 ]
 }
 ]
},
{
 "spacing":3,
 "resolve":{"scale":{"strokeDash":"independent"}},
 "vconcat":[
 {
  "spacing":24,
  "bounds":"flush",
  "resolve":{"scale":{"strokeDash":"independent"}},
  "vconcat":[
   {"width":267,"height":139,"data":{"name":"b1"},
    "layer":[
     {"data":{"values":[{"v":1}]},"mark":{"type":"rule","color":"#000","strokeWidth":2},"encoding":{"y":{"field":"v","type":"quantitative","axis":{"values":[0,2,4],"title":["Norm.","sparseness"],"titleFontSize":25,"labelFontSize":24,"labelPadding":21,"minExtent":46,"maxExtent":46,"titlePadding":12,"titleLineHeight":36}}}},
     {"mark":{"type":"line","color":"#000","strokeWidth":4.5},
      "encoding":{
       "x":{"field":"r","type":"quantitative","scale":{"domain":[-5,35],"nice":false,"zero":false},"axis":{"values":[0,10,20,30],"labels":false,"title":null}},
       "y":{"field":"v","type":"quantitative","scale":{"domain":[0,4],"nice":false},"axis":{"values":[0,2,4],"title":["Norm.","sparseness"],"titleFontSize":25,"labelFontSize":24,"labelPadding":21,"minExtent":46,"maxExtent":46,"titlePadding":12,"titleLineHeight":36}},
       "strokeDash":{"field":"s","type":"nominal","scale":{"domain":["sparse","dense"],"range":[[1,0],[8,5]]},
        "legend":{"title":null,"orient":"top-right","offset":2,"labelFontSize":28,"labelColor":"#222","symbolType":"stroke","symbolSize":650,"symbolStrokeWidth":5,"symbolStrokeColor":"#000","labelOffset":6,"rowPadding":2,"padding":0}}}},
     {"mark":{"type":"point","filled":true,"color":"#000","size":90,"opacity":1},
      "encoding":{"x":{"field":"r","type":"quantitative"},"y":{"field":"v","type":"quantitative"}}},
     {"data":{"values":[{"t":"b"}]},"mark":{"type":"text","fontSize":42,"fontWeight":"bold","align":"left","baseline":"alphabetic","color":"#000"},
      "encoding":{"text":{"field":"t"},
       "x":{"datum":-29.0,"axis":{"values":[0,10,20,30],"labels":false,"title":null}},
       "y":{"datum":3.63,"axis":{"values":[0,2,4],"title":["Norm.","sparseness"],"titleFontSize":25,"labelFontSize":24,"labelPadding":21,"minExtent":46,"maxExtent":46,"titlePadding":12,"titleLineHeight":36}}}}
    ]},
   {"width":267,"height":136,"data":{"name":"b2"},
    "layer":[
     {"mark":{"type":"line","color":"#000","strokeWidth":4.5},
      "encoding":{
       "x":{"field":"r","type":"quantitative","scale":{"domain":[-5,35],"nice":false,"zero":false},"axis":{"values":[0,10,20,30],"title":"Correlation radius (μm)","labelFontSize":24,"labelPadding":15,"titlePadding":2}},
       "y":{"field":"v","type":"quantitative","scale":{"domain":[0.6,1.02],"nice":false,"zero":false},"axis":{"values":[0.6,0.8,1],"format":"~g","title":["Robustness","of sparsening"],"titleFontSize":25,"labelFontSize":24,"labelPadding":21,"minExtent":46,"maxExtent":46,"titlePadding":12,"titleLineHeight":36}}}},
     {"mark":{"type":"point","filled":true,"color":"#000","size":90,"opacity":1},
      "encoding":{"x":{"field":"r","type":"quantitative"},"y":{"field":"v","type":"quantitative"}}}
    ]}
  ]
 },
 {
  "spacing":27,
  "bounds":"flush",
  "resolve":{"scale":{"strokeDash":"independent"}},
  "vconcat":[
   {"width":267,"height":133,"data":{"name":"d1"},
    "layer":[
     {"data":{"values":[{"v":1}]},"mark":{"type":"rule","color":"#000","strokeWidth":2},"encoding":{"y":{"field":"v","type":"quantitative","axis":{"values":[0,1,2,3],"title":["Norm.","expansion"],"titleFontSize":25,"labelFontSize":24,"labelPadding":21,"minExtent":46,"maxExtent":46,"titlePadding":12,"titleLineHeight":36}}}},
     {"mark":{"type":"line","color":"#000","strokeWidth":4.5},
      "encoding":{
       "x":{"field":"r","type":"quantitative","scale":{"domain":[-5,35],"nice":false,"zero":false},"axis":{"values":[0,10,20,30],"labels":false,"title":null}},
       "y":{"field":"v","type":"quantitative","scale":{"domain":[0,3],"nice":false},"axis":{"values":[0,1,2,3],"title":["Norm.","expansion"],"titleFontSize":25,"labelFontSize":24,"labelPadding":21,"minExtent":46,"maxExtent":46,"titlePadding":12,"titleLineHeight":36}},
       "strokeDash":{"field":"s","type":"nominal","scale":{"domain":["sparse","dense"],"range":[[1,0],[8,5]]},
        "legend":{"title":null,"orient":"top-left","offset":5,"labelFontSize":28,"labelColor":"#222","symbolType":"stroke","symbolSize":650,"symbolStrokeWidth":5,"symbolStrokeColor":"#000","labelOffset":6,"rowPadding":2,"padding":0}}}},
     {"mark":{"type":"point","filled":true,"color":"#000","size":90,"opacity":1},
      "encoding":{"x":{"field":"r","type":"quantitative"},"y":{"field":"v","type":"quantitative"}}},
     {"data":{"values":[{"t":"d"}]},"mark":{"type":"text","fontSize":42,"fontWeight":"bold","align":"left","baseline":"alphabetic","color":"#000"},
      "encoding":{"text":{"field":"t"},
       "x":{"datum":-29.4,"axis":{"values":[0,10,20,30],"labels":false,"title":null}},
       "y":{"datum":2.865,"axis":{"values":[0,1,2,3],"title":["Norm.","expansion"],"titleFontSize":25,"labelFontSize":24,"labelPadding":21,"minExtent":46,"maxExtent":46,"titlePadding":12,"titleLineHeight":36}}}}
    ]},
   {"width":267,"height":139,"data":{"name":"d2"},
    "layer":[
     {"mark":{"type":"line","color":"#000","strokeWidth":4.5},
      "encoding":{
       "x":{"field":"r","type":"quantitative","scale":{"domain":[-5,35],"nice":false,"zero":false},"axis":{"values":[0,10,20,30],"title":"Correlation radius (μm)","labelFontSize":24,"labelPadding":15,"titlePadding":2}},
       "y":{"field":"v","type":"quantitative","scale":{"domain":[0,1],"nice":false},"axis":{"values":[0,0.5,1],"format":"~g","title":["Robustness","of expansion"],"titleFontSize":25,"labelFontSize":24,"labelPadding":21,"minExtent":46,"maxExtent":46,"titlePadding":12,"titleLineHeight":36}}}},
     {"mark":{"type":"point","filled":true,"color":"#000","size":90,"opacity":1},
      "encoding":{"x":{"field":"r","type":"quantitative"},"y":{"field":"v","type":"quantitative"}}}
    ]}
  ]
 }
 ]
}
],
"spacing":25,
"resolve":{"scale":{"color":"independent","strokeDash":"independent"}}
}
